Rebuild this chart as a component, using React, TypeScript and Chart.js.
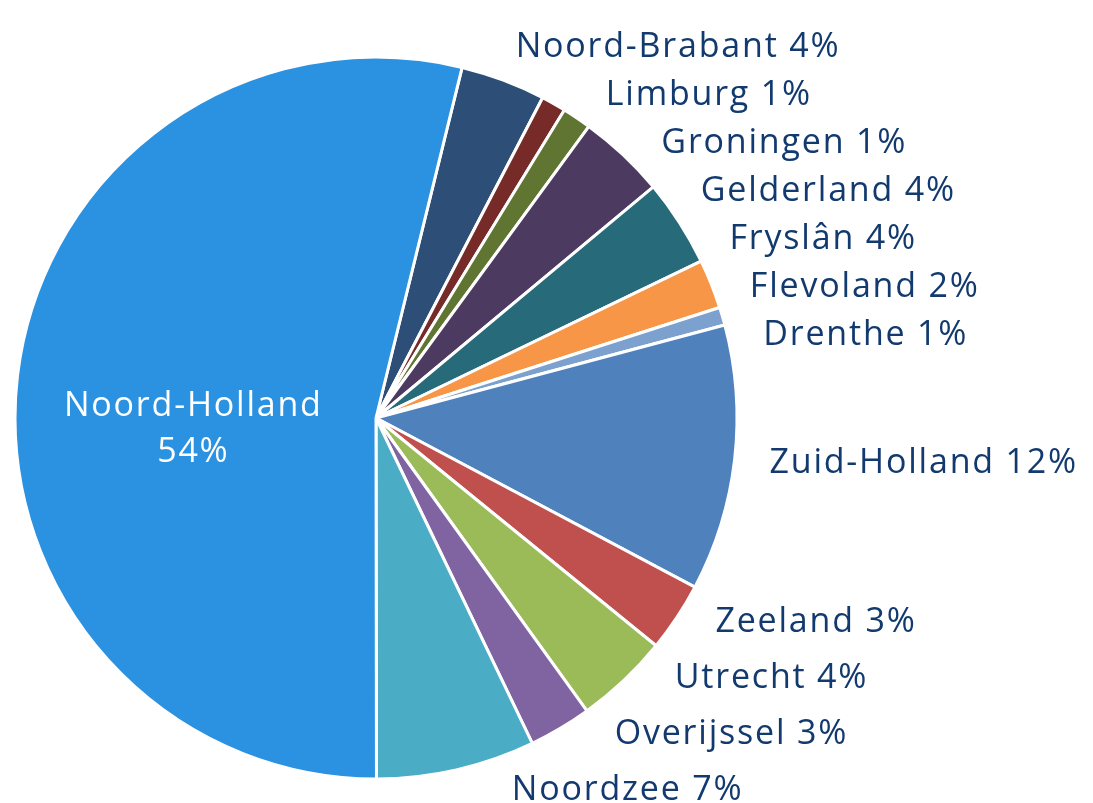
import React, { useEffect, useRef } from "react";
import { Chart, registerables } from "chart.js";

Chart.register(...registerables);

const provinces = [
  "Noord-Brabant",
  "Limburg",
  "Groningen",
  "Gelderland",
  "Fryslân",
  "Flevoland",
  "Drenthe",
  "Zuid-Holland",
  "Zeeland",
  "Utrecht",
  "Overijssel",
  "Noordzee",
  "Noord-Holland",
];

const shares = [3.8, 1.1, 1.3, 3.9, 3.9, 2.2, 0.8, 11.9, 3.1, 4.2, 2.8, 7.1, 53.8];

const sliceColors = [
  "#2d4e76",
  "#772b29",
  "#5f7531",
  "#4c3a60",
  "#276b7b",
  "#f79646",
  "#7ca1cf",
  "#4f81bd",
  "#c0504d",
  "#9bbb59",
  "#8064a2",
  "#4bacc6",
  "#2b91e1",
];

const LABEL_COLOR = "#123a6e";
const FONT = "34px 'Open Sans'";
const LETTER_SPACING = "1.8px";

const labelPlugin = {
  id: "provinceLabels",
  afterDatasetsDraw(chart: any) {
    const ctx: any = chart.ctx;
    const meta = chart.getDatasetMeta(0);
    const data: number[] = chart.data.datasets[0].data;
    const total = data.reduce((a, b) => a + b, 0);
    const labels: string[] = chart.data.labels;
    const arcs = meta.data;
    const cx = arcs[0].x;
    const cy = arcs[0].y;
    const R = arcs[0].outerRadius;
    const Rl = R * 1.097;
    const gapAbove = 48;
    const gapBelow = 56;
    const maxY = chart.height - 13;

    const outer: { i: number; y: number; mid: number }[] = [];
    let inside = -1;
    arcs.forEach((arc: any, i: number) => {
      const frac = data[i] / total;
      if (frac > 0.3) {
        inside = i;
        return;
      }
      const mid = (arc.startAngle + arc.endAngle) / 2;
      outer.push({ i, mid, y: cy + Rl * Math.sin(mid) });
    });
    outer.sort((a, b) => a.mid - b.mid);
    const gapFor = (y: number) => (y > cy ? gapBelow : gapAbove);
    for (let k = 1; k < outer.length; k++) {
      outer[k].y = Math.max(outer[k].y, outer[k - 1].y + gapFor(outer[k - 1].y));
    }
    if (outer.length) {
      outer[outer.length - 1].y = Math.min(outer[outer.length - 1].y, maxY);
      for (let k = outer.length - 2; k >= 0; k--) {
        const limit = outer[k + 1].y - gapFor(outer[k].y);
        if (outer[k].y > limit) outer[k].y = limit;
        else break;
      }
    }

    ctx.save();
    ctx.font = FONT;
    ctx.letterSpacing = LETTER_SPACING;
    ctx.textBaseline = "middle";
    ctx.textAlign = "left";
    ctx.fillStyle = LABEL_COLOR;
    outer.forEach((o) => {
      const dy = o.y - cy;
      const x =
        Math.abs(dy) < Rl
          ? cx + Math.sqrt(Rl * Rl - dy * dy)
          : cx + Rl * Math.cos(o.mid);
      const pct = Math.round((data[o.i] / total) * 100);
      ctx.fillText(`${labels[o.i]} ${pct}%`, x, o.y);
    });

    if (inside >= 0) {
      const pct = Math.round((data[inside] / total) * 100);
      const x = cx - R * 0.506;
      const y = cy + R * 0.03;
      ctx.fillStyle = "#ffffff";
      ctx.textAlign = "center";
      ctx.fillText(labels[inside], x, y - 23);
      ctx.fillText(`${pct}%`, x, y + 23);
    }
    ctx.restore();
  },
};

export default function App() {
  const ref = useRef<HTMLCanvasElement | null>(null);
  useEffect(() => {
    if (!ref.current) return;
    const chart = new Chart(ref.current, {
      type: "pie",
      data: {
        labels: provinces,
        datasets: [
          {
            data: shares,
            backgroundColor: sliceColors,
            borderColor: "#ffffff",
            borderWidth: 3,
          },
        ],
      },
      options: {
        animation: false,
        responsive: false,
        rotation: 13.8,
        radius: 361,
        layout: { padding: { left: 0, right: 341, top: 33, bottom: 0 } },
        plugins: {
          legend: { display: false },
          tooltip: { enabled: false },
        },
      } as any,
      plugins: [labelPlugin],
    });
    return () => chart.destroy();
  }, []);
  return (
    <div style={{ position: "absolute", left: 0, top: 0, width: 1093, height: 803, background: "#fff" }}>
      <canvas ref={ref} width={1093} height={803} />
    </div>
  );
}
